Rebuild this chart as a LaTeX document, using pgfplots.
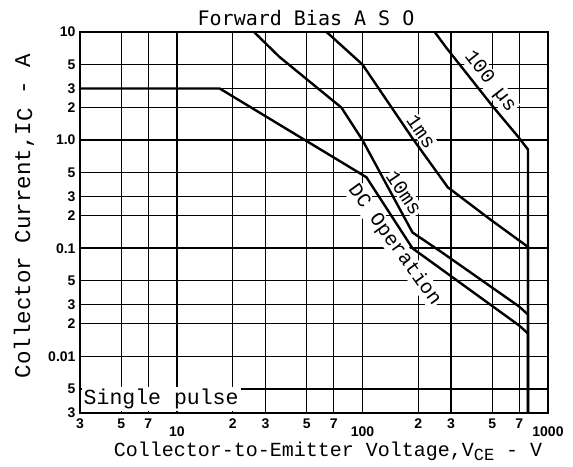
\documentclass[border=0pt]{standalone}
\usepackage{fontspec}
\usepackage{pgfplots}
\pgfplotsset{compat=1.18}
\newfontfamily\monof{Liberation Mono}
\newfontfamily\titlef{DejaVu Sans Mono}
\newfontfamily\tickf{Liberation Sans}
\newcommand{\lblfont}{\monof\fontsize{20}{22}\selectfont}
\begin{document}
\begin{tikzpicture}
\path[use as bounding box] (-80pt,-53pt) rectangle (493pt,413pt);
\begin{axis}[
  scale only axis, width=468pt, height=381pt,
  xmode=log, ymode=log,
  xmin=3, xmax=1000, ymin=0.003, ymax=10,
  axis line style={line width=1.5pt},
  major tick length=0pt, minor tick length=0pt,
  minor xtick={}, minor ytick={},
  xmajorgrids, ymajorgrids,
  major grid style={black, line width=1.1pt},
  xtick={3,5,7,20,30,50,70,200,300,500,700},
  xticklabels={3,5,7,2,3,5,7,2,3,5,7},
  extra x ticks={10,100,1000},
  extra x tick labels={10,100,1000},
  extra x tick style={grid=major, major grid style={black, line width=1.6pt}, xticklabel style={yshift=-8pt}},
  ytick={0.005,0.02,0.03,0.05,0.2,0.3,0.5,2,3,5},
  yticklabels={5,2,3,5,2,3,5,2,3,5},
  extra y ticks={0.003,0.01,0.1,1,10},
  extra y tick labels={3,0.01,0.1,1.0,10},
  extra y tick style={grid=major, major grid style={black, line width=1.6pt}},
  tick label style={font=\tickf\bfseries\fontsize{14}{14}\selectfont},
  xticklabel style={yshift=-2pt},
  yticklabel style={xshift=-1pt},
  clip=false,
]
% DC operation
\addplot[black, line width=2.4pt] coordinates {(3,3) (17,3) (105,0.454) (186,0.1) (700,0.0193) (780,0.0163) (780,0.003)};
% 10 ms
\addplot[black, line width=2.4pt] coordinates {(26,10) (35.6,5.9) (77,2) (100,1.0) (186,0.14) (261,0.0946) (700,0.0289) (780,0.0244) (780,0.003)};
% 1 ms
\addplot[black, line width=2.4pt] coordinates {(64,10) (100,5) (186,1.04) (288,0.367) (486,0.186) (780,0.103) (780,0.003)};
% 100 us
\addplot[black, line width=2.4pt] coordinates {(245,10) (284,7.1) (505,2.04) (689,1.08) (780,0.82) (780,0.003)};

\node[rotate=-52, anchor=south, fill=white, inner sep=1pt, outer sep=3pt, font=\lblfont] at (axis cs:430,2.95) {100 µs};
\node[rotate=-55, anchor=south, fill=white, inner sep=1pt, outer sep=3pt, font=\lblfont] at (axis cs:186,1.05) {1ms};
\node[rotate=-56, anchor=south, fill=white, inner sep=1pt, outer sep=3pt, font=\lblfont] at (axis cs:150,0.285) {10ms};
\node[rotate=-54, anchor=north, fill=white, inner sep=1pt, outer sep=3pt, font=\lblfont] at (axis cs:170,0.127) {DC Operation};
\node[anchor=south west, fill=white, inner sep=2pt, xshift=1.5pt, yshift=1.5pt, font=\monof\fontsize{21.5}{22}\selectfont] at (axis cs:3,0.003) {Single pulse};
\end{axis}
\node[font=\titlef\fontsize{20}{22}\selectfont] at (226pt,395pt) {Forward Bias A S O};
\node[font=\lblfont] at (248pt,-38pt) {Collector-to-Emitter Voltage,V\raisebox{-4pt}{\fontsize{17}{17}\selectfont CE} - V};
\node[rotate=90, font=\monof\fontsize{22.5}{23}\selectfont] at (-56pt,197pt) {Collector Current,I\raisebox{-2pt}{C} - A};
\end{tikzpicture}
\end{document}
